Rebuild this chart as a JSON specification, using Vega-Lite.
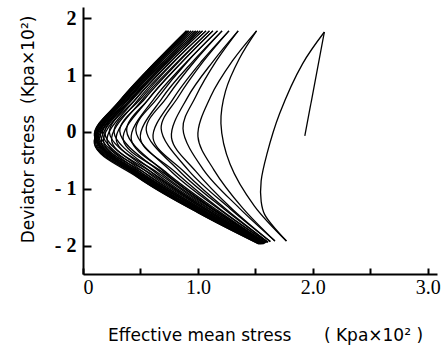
{
  "$schema": "https://vega.github.io/schema/vega-lite/v6.json",
  "width": 354,
  "height": 267,
  "autosize": "none",
  "padding": {"left": 83, "top": 7, "right": 9, "bottom": 80},
  "background": "white",
  "config": {"view": {"stroke": null}},
  "data": {"values": [
    {"c":0,"i":0,"p":1.93,"q":-0.07},{"c":0,"i":1,"p":2.10,"q":1.76},
    {"c":1,"i":0,"p":2.10,"q":1.76},{"c":1,"i":1,"p":1.91,"q":1.2},{"c":1,"i":2,"p":1.71,"q":0.32},{"c":1,"i":3,"p":1.60,"q":-0.39},{"c":1,"i":4,"p":1.55,"q":-0.86},{"c":1,"i":5,"p":1.55,"q":-1.22},{"c":1,"i":6,"p":1.58,"q":-1.45},{"c":1,"i":7,"p":1.77,"q":-1.92},
    {"c":2,"i":0,"p":1.77,"q":-1.92},{"c":2,"i":1,"p":1.49,"q":-1.30},{"c":2,"i":2,"p":1.28,"q":-0.57},{"c":2,"i":3,"p":1.20,"q":0.15},{"c":2,"i":4,"p":1.24,"q":0.72},{"c":2,"i":5,"p":1.36,"q":1.29},{"c":2,"i":6,"p":1.51,"q":1.78},
    {"c":3,"i":0,"p":1.51,"q":1.78},{"c":3,"i":1,"p":1.30,"q":1.25},{"c":3,"i":2,"p":1.11,"q":0.62},{"c":3,"i":3,"p":1.00,"q":-0.08},{"c":3,"i":4,"p":1.14,"q":-0.67},{"c":3,"i":5,"p":1.39,"q":-1.34},{"c":3,"i":6,"p":1.67,"q":-1.92},
    {"c":4,"i":0,"p":1.67,"q":-1.92},{"c":4,"i":1,"p":1.36,"q":-1.34},{"c":4,"i":2,"p":1.05,"q":-0.67},{"c":4,"i":3,"p":0.87,"q":0.06},{"c":4,"i":4,"p":0.98,"q":0.62},{"c":4,"i":5,"p":1.16,"q":1.25},{"c":4,"i":6,"p":1.35,"q":1.78},
    {"c":5,"i":0,"p":1.35,"q":1.78},{"c":5,"i":1,"p":1.13,"q":1.24},{"c":5,"i":2,"p":0.91,"q":0.61},{"c":5,"i":3,"p":0.77,"q":-0.10},{"c":5,"i":4,"p":0.98,"q":-0.69},{"c":5,"i":5,"p":1.30,"q":-1.36},{"c":5,"i":6,"p":1.63,"q":-1.93},
    {"c":6,"i":0,"p":1.63,"q":-1.93},{"c":6,"i":1,"p":1.28,"q":-1.35},{"c":6,"i":2,"p":0.92,"q":-0.68},{"c":6,"i":3,"p":0.68,"q":0.06},{"c":6,"i":4,"p":0.83,"q":0.62},{"c":6,"i":5,"p":1.05,"q":1.25},{"c":6,"i":6,"p":1.27,"q":1.78},
    {"c":7,"i":0,"p":1.27,"q":1.78},{"c":7,"i":1,"p":1.03,"q":1.24},{"c":7,"i":2,"p":0.79,"q":0.60},{"c":7,"i":3,"p":0.61,"q":-0.11},{"c":7,"i":4,"p":0.88,"q":-0.70},{"c":7,"i":5,"p":1.25,"q":-1.37},{"c":7,"i":6,"p":1.61,"q":-1.94},
    {"c":8,"i":0,"p":1.61,"q":-1.94},{"c":8,"i":1,"p":1.23,"q":-1.36},{"c":8,"i":2,"p":0.84,"q":-0.69},{"c":8,"i":3,"p":0.55,"q":0.04},{"c":8,"i":4,"p":0.73,"q":0.61},{"c":8,"i":5,"p":0.97,"q":1.24},{"c":8,"i":6,"p":1.21,"q":1.78},
    {"c":9,"i":0,"p":1.21,"q":1.78},{"c":9,"i":1,"p":0.95,"q":1.23},{"c":9,"i":2,"p":0.69,"q":0.60},{"c":9,"i":3,"p":0.50,"q":-0.12},{"c":9,"i":4,"p":0.80,"q":-0.70},{"c":9,"i":5,"p":1.20,"q":-1.37},{"c":9,"i":6,"p":1.60,"q":-1.94},
    {"c":10,"i":0,"p":1.60,"q":-1.94},{"c":10,"i":1,"p":1.19,"q":-1.37},{"c":10,"i":2,"p":0.77,"q":-0.70},{"c":10,"i":3,"p":0.46,"q":0.03},{"c":10,"i":4,"p":0.65,"q":0.60},{"c":10,"i":5,"p":0.91,"q":1.24},{"c":10,"i":6,"p":1.17,"q":1.78},
    {"c":11,"i":0,"p":1.17,"q":1.78},{"c":11,"i":1,"p":0.90,"q":1.23},{"c":11,"i":2,"p":0.62,"q":0.59},{"c":11,"i":3,"p":0.42,"q":-0.13},{"c":11,"i":4,"p":0.73,"q":-0.72},{"c":11,"i":5,"p":1.17,"q":-1.38},{"c":11,"i":6,"p":1.59,"q":-1.95},
    {"c":12,"i":0,"p":1.59,"q":-1.95},{"c":12,"i":1,"p":1.15,"q":-1.38},{"c":12,"i":2,"p":0.71,"q":-0.71},{"c":12,"i":3,"p":0.38,"q":0.02},{"c":12,"i":4,"p":0.58,"q":0.60},{"c":12,"i":5,"p":0.86,"q":1.23},{"c":12,"i":6,"p":1.13,"q":1.78},
    {"c":13,"i":0,"p":1.13,"q":1.78},{"c":13,"i":1,"p":0.86,"q":1.23},{"c":13,"i":2,"p":0.57,"q":0.58},{"c":13,"i":3,"p":0.35,"q":-0.14},{"c":13,"i":4,"p":0.70,"q":-0.72},{"c":13,"i":5,"p":1.15,"q":-1.38},{"c":13,"i":6,"p":1.58,"q":-1.95},
    {"c":14,"i":0,"p":1.58,"q":-1.95},{"c":14,"i":1,"p":1.14,"q":-1.38},{"c":14,"i":2,"p":0.68,"q":-0.72},{"c":14,"i":3,"p":0.32,"q":0.01},{"c":14,"i":4,"p":0.54,"q":0.59},{"c":14,"i":5,"p":0.83,"q":1.23},{"c":14,"i":6,"p":1.10,"q":1.78},
    {"c":15,"i":0,"p":1.10,"q":1.78},{"c":15,"i":1,"p":0.82,"q":1.23},{"c":15,"i":2,"p":0.52,"q":0.58},{"c":15,"i":3,"p":0.29,"q":-0.15},{"c":15,"i":4,"p":0.66,"q":-0.73},{"c":15,"i":5,"p":1.13,"q":-1.39},{"c":15,"i":6,"p":1.58,"q":-1.96},
    {"c":16,"i":0,"p":1.58,"q":-1.96},{"c":16,"i":1,"p":1.12,"q":-1.39},{"c":16,"i":2,"p":0.64,"q":-0.73},{"c":16,"i":3,"p":0.27,"q":0.0},{"c":16,"i":4,"p":0.50,"q":0.58},{"c":16,"i":5,"p":0.79,"q":1.23},{"c":16,"i":6,"p":1.07,"q":1.78},
    {"c":17,"i":0,"p":1.07,"q":1.78},{"c":17,"i":1,"p":0.78,"q":1.22},{"c":17,"i":2,"p":0.48,"q":0.57},{"c":17,"i":3,"p":0.25,"q":-0.16},{"c":17,"i":4,"p":0.62,"q":-0.74},{"c":17,"i":5,"p":1.11,"q":-1.40},{"c":17,"i":6,"p":1.57,"q":-1.96},
    {"c":18,"i":0,"p":1.57,"q":-1.96},{"c":18,"i":1,"p":1.10,"q":-1.39},{"c":18,"i":2,"p":0.61,"q":-0.73},{"c":18,"i":3,"p":0.23,"q":-0.01},{"c":18,"i":4,"p":0.46,"q":0.58},{"c":18,"i":5,"p":0.76,"q":1.23},{"c":18,"i":6,"p":1.04,"q":1.78},
    {"c":19,"i":0,"p":1.04,"q":1.78},{"c":19,"i":1,"p":0.75,"q":1.22},{"c":19,"i":2,"p":0.45,"q":0.56},{"c":19,"i":3,"p":0.21,"q":-0.17},{"c":19,"i":4,"p":0.60,"q":-0.75},{"c":19,"i":5,"p":1.10,"q":-1.41},{"c":19,"i":6,"p":1.57,"q":-1.97},
    {"c":20,"i":0,"p":1.57,"q":-1.97},{"c":20,"i":1,"p":1.09,"q":-1.40},{"c":20,"i":2,"p":0.58,"q":-0.74},{"c":20,"i":3,"p":0.19,"q":-0.02},{"c":20,"i":4,"p":0.43,"q":0.57},{"c":20,"i":5,"p":0.73,"q":1.22},{"c":20,"i":6,"p":1.02,"q":1.78},
    {"c":21,"i":0,"p":1.02,"q":1.78},{"c":21,"i":1,"p":0.73,"q":1.22},{"c":21,"i":2,"p":0.42,"q":0.56},{"c":21,"i":3,"p":0.18,"q":-0.18},{"c":21,"i":4,"p":0.56,"q":-0.75},{"c":21,"i":5,"p":1.07,"q":-1.40},{"c":21,"i":6,"p":1.56,"q":-1.96},
    {"c":22,"i":0,"p":1.56,"q":-1.96},{"c":22,"i":1,"p":1.07,"q":-1.40},{"c":22,"i":2,"p":0.55,"q":-0.74},{"c":22,"i":3,"p":0.17,"q":-0.03},{"c":22,"i":4,"p":0.41,"q":0.56},{"c":22,"i":5,"p":0.71,"q":1.22},{"c":22,"i":6,"p":1.00,"q":1.78},
    {"c":23,"i":0,"p":1.00,"q":1.78},{"c":23,"i":1,"p":0.71,"q":1.21},{"c":23,"i":2,"p":0.40,"q":0.55},{"c":23,"i":3,"p":0.16,"q":-0.19},{"c":23,"i":4,"p":0.54,"q":-0.76},{"c":23,"i":5,"p":1.06,"q":-1.41},{"c":23,"i":6,"p":1.56,"q":-1.97},
    {"c":24,"i":0,"p":1.56,"q":-1.97},{"c":24,"i":1,"p":1.06,"q":-1.41},{"c":24,"i":2,"p":0.53,"q":-0.75},{"c":24,"i":3,"p":0.15,"q":-0.04},{"c":24,"i":4,"p":0.39,"q":0.56},{"c":24,"i":5,"p":0.69,"q":1.22},{"c":24,"i":6,"p":0.98,"q":1.78},
    {"c":25,"i":0,"p":0.98,"q":1.78},{"c":25,"i":1,"p":0.69,"q":1.21},{"c":25,"i":2,"p":0.38,"q":0.55},{"c":25,"i":3,"p":0.14,"q":-0.20},{"c":25,"i":4,"p":0.52,"q":-0.76},{"c":25,"i":5,"p":1.05,"q":-1.40},{"c":25,"i":6,"p":1.55,"q":-1.96},
    {"c":26,"i":0,"p":1.55,"q":-1.96},{"c":26,"i":1,"p":1.05,"q":-1.40},{"c":26,"i":2,"p":0.51,"q":-0.75},{"c":26,"i":3,"p":0.13,"q":-0.04},{"c":26,"i":4,"p":0.37,"q":0.56},{"c":26,"i":5,"p":0.67,"q":1.22},{"c":26,"i":6,"p":0.96,"q":1.78},
    {"c":27,"i":0,"p":0.96,"q":1.78},{"c":27,"i":1,"p":0.67,"q":1.21},{"c":27,"i":2,"p":0.37,"q":0.54},{"c":27,"i":3,"p":0.13,"q":-0.20},{"c":27,"i":4,"p":0.51,"q":-0.77},{"c":27,"i":5,"p":1.04,"q":-1.42},{"c":27,"i":6,"p":1.55,"q":-1.97},
    {"c":28,"i":0,"p":1.55,"q":-1.97},{"c":28,"i":1,"p":1.04,"q":-1.41},{"c":28,"i":2,"p":0.50,"q":-0.76},{"c":28,"i":3,"p":0.12,"q":-0.05},{"c":28,"i":4,"p":0.35,"q":0.55},{"c":28,"i":5,"p":0.65,"q":1.21},{"c":28,"i":6,"p":0.94,"q":1.78},
    {"c":29,"i":0,"p":0.94,"q":1.78},{"c":29,"i":1,"p":0.65,"q":1.20},{"c":29,"i":2,"p":0.35,"q":0.53},{"c":29,"i":3,"p":0.12,"q":-0.20},{"c":29,"i":4,"p":0.50,"q":-0.77},{"c":29,"i":5,"p":1.03,"q":-1.41},{"c":29,"i":6,"p":1.54,"q":-1.96},
    {"c":30,"i":0,"p":1.54,"q":-1.96},{"c":30,"i":1,"p":1.03,"q":-1.41},{"c":30,"i":2,"p":0.49,"q":-0.75},{"c":30,"i":3,"p":0.11,"q":-0.06},{"c":30,"i":4,"p":0.34,"q":0.55},{"c":30,"i":5,"p":0.64,"q":1.21},{"c":30,"i":6,"p":0.92,"q":1.78},
    {"c":31,"i":0,"p":0.92,"q":1.78},{"c":31,"i":1,"p":0.64,"q":1.20},{"c":31,"i":2,"p":0.34,"q":0.53},{"c":31,"i":3,"p":0.11,"q":-0.20},{"c":31,"i":4,"p":0.49,"q":-0.78},{"c":31,"i":5,"p":1.02,"q":-1.42},{"c":31,"i":6,"p":1.54,"q":-1.97},
    {"c":32,"i":0,"p":1.54,"q":-1.97},{"c":32,"i":1,"p":1.02,"q":-1.41},{"c":32,"i":2,"p":0.48,"q":-0.76},{"c":32,"i":3,"p":0.10,"q":-0.06},{"c":32,"i":4,"p":0.33,"q":0.55},{"c":32,"i":5,"p":0.63,"q":1.21},{"c":32,"i":6,"p":0.91,"q":1.78},
    {"c":33,"i":0,"p":0.91,"q":1.78},{"c":33,"i":1,"p":0.63,"q":1.20},{"c":33,"i":2,"p":0.33,"q":0.52},{"c":33,"i":3,"p":0.10,"q":-0.20},{"c":33,"i":4,"p":0.48,"q":-0.78},{"c":33,"i":5,"p":1.02,"q":-1.42},{"c":33,"i":6,"p":1.53,"q":-1.96},
    {"c":34,"i":0,"p":1.53,"q":-1.96},{"c":34,"i":1,"p":1.01,"q":-1.42},{"c":34,"i":2,"p":0.47,"q":-0.77},{"c":34,"i":3,"p":0.10,"q":-0.07},{"c":34,"i":4,"p":0.32,"q":0.55},{"c":34,"i":5,"p":0.62,"q":1.21},{"c":34,"i":6,"p":0.90,"q":1.78},
    {"c":35,"i":0,"p":0.90,"q":1.78},{"c":35,"i":1,"p":0.62,"q":1.20},{"c":35,"i":2,"p":0.32,"q":0.52},{"c":35,"i":3,"p":0.10,"q":-0.21},{"c":35,"i":4,"p":0.47,"q":-0.79},{"c":35,"i":5,"p":1.01,"q":-1.43},{"c":35,"i":6,"p":1.53,"q":-1.97},
    {"c":36,"i":0,"p":1.53,"q":-1.97},{"c":36,"i":1,"p":1.00,"q":-1.42},{"c":36,"i":2,"p":0.46,"q":-0.77},{"c":36,"i":3,"p":0.11,"q":-0.07},{"c":36,"i":4,"p":0.32,"q":0.55},{"c":36,"i":5,"p":0.62,"q":1.21},{"c":36,"i":6,"p":0.90,"q":1.78}
  ]},
  "mark": {"type": "line", "interpolate": "catmull-rom", "strokeWidth": 1.3, "color": "black"},
  "encoding": {
    "x": {
      "field": "p", "type": "quantitative",
      "scale": {"domain": [0, 3.08], "nice": false, "zero": false},
      "axis": {
        "values": [0, 0.5, 1, 1.5, 2, 2.5, 3],
        "labelExpr": "datum.value == 0 ? '0' : (datum.value % 1 == 0 ? format(datum.value, '.1f') : '')",
        "grid": false, "tickSize": -6, "tickWidth": 2, "domainWidth": 2,
        "domainColor": "black", "tickColor": "black",
        "labelFont": "Liberation Serif", "labelFontSize": 20, "labelColor": "black", "labelPadding": 9,
        "title": "Effective mean stress\u00a0\u00a0\u00a0\u00a0\u00a0\u00a0(\u00a0Kpa×10²\u00a0)",
        "titleFont": "DejaVu Sans", "titleFontSize": 17, "titleFontWeight": "normal", "titleColor": "black",
        "titleX": 182, "titleY": 53, "titleBaseline": "top", "titleAlign": "center"
      }
    },
    "y": {
      "field": "q", "type": "quantitative",
      "scale": {"domain": [-2.5, 2.2], "nice": false, "zero": false},
      "axis": {
        "values": [-2, -1, 0, 1, 2],
        "labelExpr": "datum.value < 0 ? '- ' + abs(datum.value) : datum.label",
        "grid": false, "tickSize": -8, "tickWidth": 2, "domainWidth": 2,
        "domainColor": "black", "tickColor": "black",
        "labelFont": "Liberation Serif", "labelFontSize": 20, "labelFontWeight": "bold", "labelColor": "black", "labelPadding": 15,
        "title": "Deviator stress\u00a0\u00a0(Kpa×10²)",
        "titleFont": "DejaVu Sans", "titleFontSize": 17, "titleFontWeight": "normal", "titleColor": "black",
        "titleX": -55, "titleY": 122, "titleBaseline": "middle", "titleAlign": "center", "titleAngle": -90
      }
    },
    "detail": {"field": "c", "type": "nominal"},
    "order": {"field": "i", "type": "quantitative"}
  }
}
